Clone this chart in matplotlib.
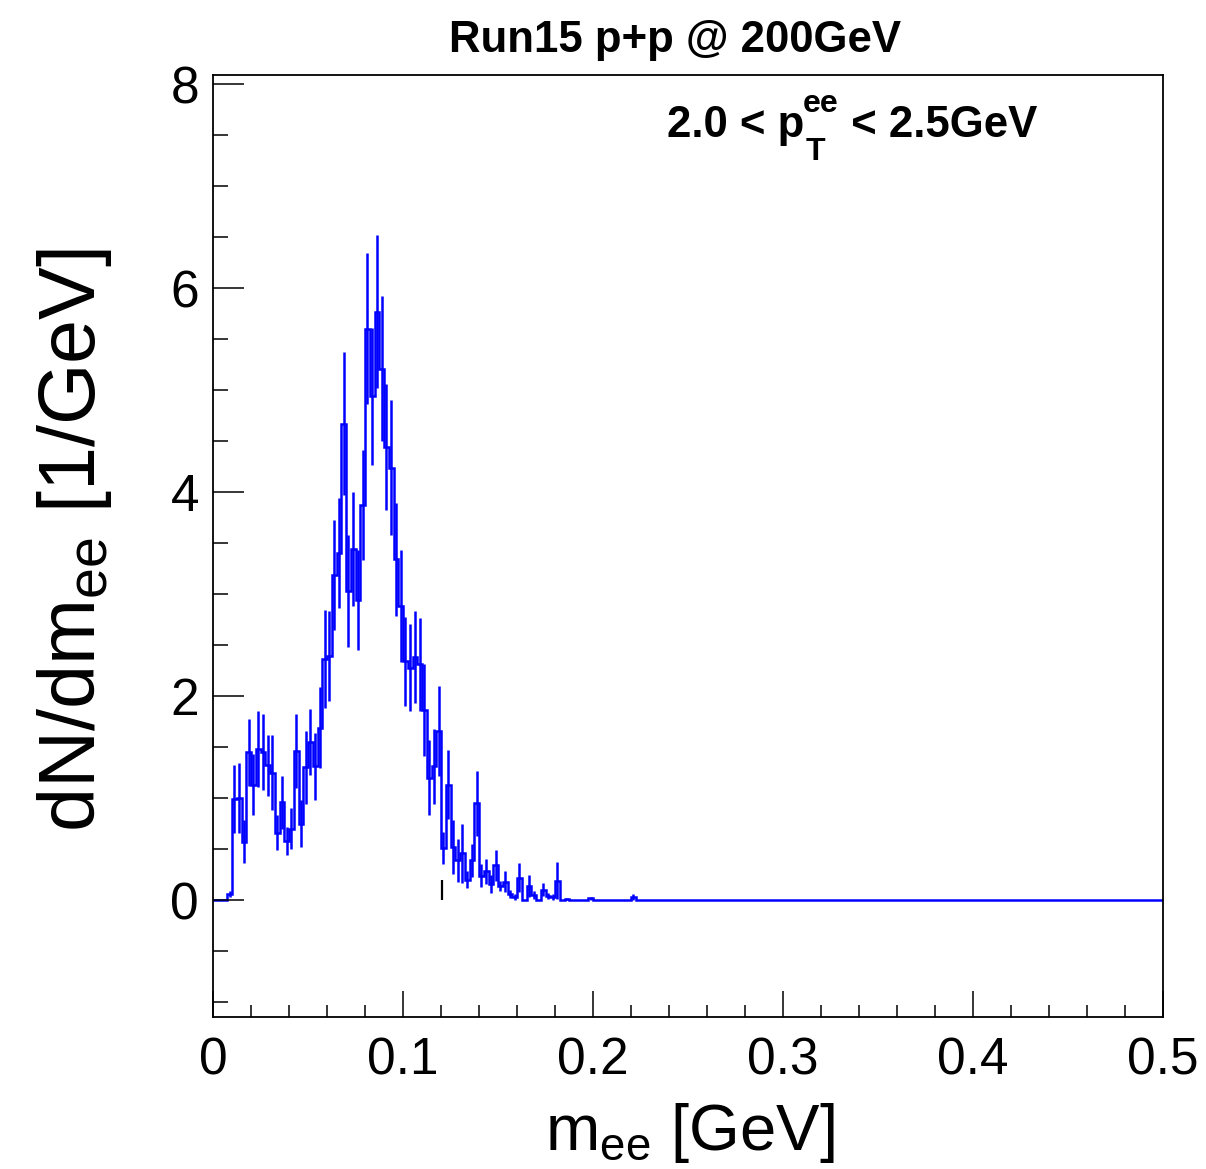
import numpy as np
import matplotlib
matplotlib.use("Agg")
import matplotlib.pyplot as plt
from matplotlib.ticker import MultipleLocator

plt.rcParams['font.family'] = ['Liberation Sans', 'DejaVu Sans']
plt.rcParams['mathtext.fontset'] = 'custom'
plt.rcParams['mathtext.rm'] = 'Liberation Sans'
plt.rcParams['mathtext.it'] = 'Liberation Sans'
plt.rcParams['mathtext.bf'] = 'Liberation Sans:bold'

# ---- data (bins of 2.5 MeV from 0 to 0.5 GeV) ----
bin_width = 0.0025
n_bins = 200
counts_nonzero = [0, 0, 0, 0.06, 0.99, 1.00, 0.57, 1.45, 1.13, 1.48,
                  1.45, 1.32, 1.25, 0.66, 0.96, 0.58, 0.70, 1.46, 0.75, 1.30,
                  1.55, 1.31, 1.69, 2.36, 2.39, 3.19, 3.40, 4.67, 3.03, 3.44,
                  2.94, 3.87, 5.60, 4.94, 5.77, 5.21, 4.44, 4.24, 3.34, 2.88,
                  2.34, 2.28, 2.38, 2.31, 1.86, 1.20, 1.31, 1.66, 0.51, 1.13,
                  0.52, 0.39, 0.46, 0.20, 0.39, 0.95, 0.24, 0.28, 0.16, 0.34,
                  0.14, 0.18, 0.055, 0.03, 0.22, 0.0, 0.14, 0.05, 0.0, 0.10,
                  0.04, 0.03, 0.19, 0.0, 0.01, 0, 0, 0, 0, 0.015,
                  0, 0, 0, 0, 0, 0, 0, 0, 0.03, 0]
errors_nonzero = [0, 0, 0, 0.03, 0.33, 0.34, 0.21, 0.33, 0.30, 0.37,
                  0.37, 0.30, 0.37, 0.17, 0.26, 0.14, 0.20, 0.36, 0.23, 0.36,
                  0.32, 0.33, 0.40, 0.48, 0.44, 0.54, 0.54, 0.70, 0.55, 0.56,
                  0.49, 0.54, 0.74, 0.67, 0.75, 0.71, 0.62, 0.66, 0.55, 0.55,
                  0.44, 0.43, 0.45, 0.46, 0.45, 0.37, 0.37, 0.44, 0.16, 0.34,
                  0.26, 0.21, 0.29, 0.08, 0.16, 0.32, 0.11, 0.12, 0.09, 0.15,
                  0.05, 0.10, 0.04, 0.03, 0.14, 0.0, 0.11, 0.04, 0.0, 0.065,
                  0.03, 0.03, 0.18, 0.0, 0.01, 0, 0, 0, 0, 0.015,
                  0, 0, 0, 0, 0, 0, 0, 0, 0.03, 0]
counts = np.array(counts_nonzero + [0.0] * (n_bins - len(counts_nonzero)))
errors = np.array(errors_nonzero + [0.0] * (n_bins - len(errors_nonzero)))
edges = np.arange(n_bins + 1) * bin_width
centers = 0.5 * (edges[:-1] + edges[1:])

# stray black bar seen in the reference
black_bar_x = [0.1205]
black_bar_top = [0.2]

title = "Run15 p+p @ 200GeV"
label_parts = ["2.0 < p", "ee", "T", " < 2.5GeV"]
xlabel = r"m$_{\mathrm{ee}}$ [GeV]"
ylabel = r"dN/dm$_{\mathrm{ee}}$ [1/GeV]"
x_range = (0.0, 0.5)
y_range = (-1.147, 8.09)

W, H = 1206, 1169
fig = plt.figure(figsize=(W / 100, H / 100), dpi=100)
ax = fig.add_axes([213 / W, 1 - 1017 / H, (1163 - 213) / W, (1017 - 75) / H])

blue = (0, 0, 1)
ax.stairs(counts, edges, color=blue, lw=1.8)
mask = errors > 0
ax.vlines(centers[mask], counts[mask] - errors[mask], counts[mask] + errors[mask],
          color=blue, lw=1.8)
ax.vlines(black_bar_x, 0, black_bar_top, color='black', lw=1.6)

ax.set_xlim(*x_range)
ax.set_ylim(*y_range)

ax.xaxis.set_minor_locator(MultipleLocator(0.02))
ax.yaxis.set_minor_locator(MultipleLocator(0.5))
ax.set_xticks([0, 0.1, 0.2, 0.3, 0.4, 0.5])
ax.set_xticklabels(["0", "0.1", "0.2", "0.3", "0.4", "0.5"])
ax.set_yticks([0, 2, 4, 6, 8])
ax.set_yticklabels(["0", "2", "4", "6", "8"])

ax.tick_params(axis='x', which='major', direction='in', length=18.5, width=1.1,
               labelsize=37, pad=14)
ax.tick_params(axis='x', which='minor', direction='in', length=9, width=1.1)
ax.tick_params(axis='y', which='major', direction='in', length=22, width=1.1,
               labelsize=37, pad=10)
ax.tick_params(axis='y', which='minor', direction='in', length=11, width=1.1)
for s in ax.spines.values():
    s.set_linewidth(1.3)

fig.text(675 / W, 1 - 52 / H, title, ha='center', va='baseline',
         fontsize=31.5, fontweight='bold')

# annotation built from pieces (ROOT-like stacked sub/superscript)
renderer = fig.canvas.get_renderer()
t0 = fig.text(667 / W, 1 - 137 / H, label_parts[0], ha='left', va='baseline',
              fontsize=31.5, fontweight='bold')
bb = t0.get_window_extent(renderer)
x_after_p = bb.x1 / W
t_sup = fig.text(x_after_p - 1 / W, 1 - 112 / H, label_parts[1], ha='left',
                 va='baseline', fontsize=23, fontweight='bold')
t_sub = fig.text(x_after_p + 1 / W, 1 - 160 / H, label_parts[2], ha='left',
                 va='baseline', fontsize=23, fontweight='bold')
bb_sup = t_sup.get_window_extent(renderer)
bb_sub = t_sub.get_window_extent(renderer)
x_rest = max(bb_sup.x1, bb_sub.x1) / W
fig.text(x_rest, 1 - 137 / H, label_parts[3], ha='left', va='baseline',
         fontsize=31.5, fontweight='bold')

fig.text(690 / W, 1 - 1150 / H, xlabel, ha='center', va='baseline', fontsize=47)
fig.text(75 / W, 1 - 540 / H, ylabel, ha='center', va='center', rotation=90,
         fontsize=57)

fig.savefig("out.png", dpi=100)
